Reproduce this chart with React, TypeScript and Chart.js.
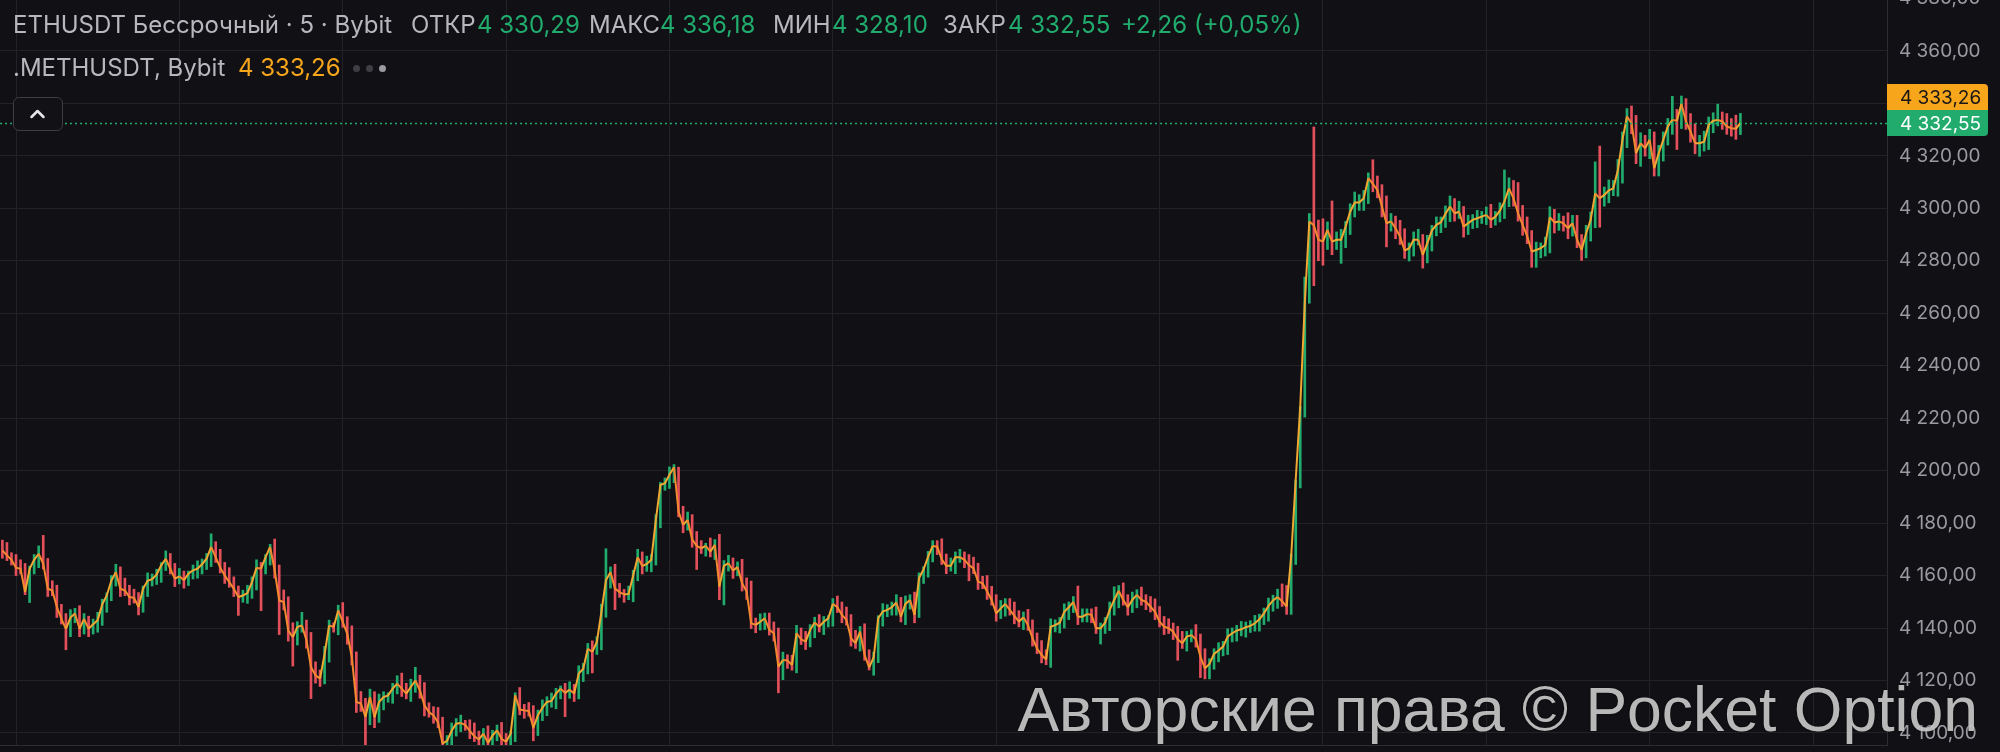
import React, { useEffect, useRef } from 'react';
import { Chart, registerables } from 'chart.js';

Chart.register(...registerables);

// ---- data (5-minute bars, ETHUSDT perpetual) ----
const firstOpen = 4171.5;
const closes: number[] = [
  4169.6, 4167.7, 4166, 4163, 4162.6, 4153.7, 4162.6, 4166, 4168.3, 4164.5,
  4155, 4154.3, 4148, 4143.5, 4139.7, 4144, 4145.5, 4139.7, 4143.5, 4139.7,
  4141.4, 4143, 4149, 4152.4, 4158, 4161.3, 4155, 4154.3, 4151.8, 4151.5,
  4148, 4155, 4158, 4158.6, 4160.4, 4163.9, 4166.4, 4162.6, 4158.8, 4159.7,
  4158.2, 4160.7, 4162, 4162.6, 4164.3, 4166.4, 4170.9, 4167, 4163, 4160,
  4157.5, 4155, 4151.8, 4152.4, 4153.3, 4157.5, 4163, 4162.6, 4167, 4170.9,
  4162, 4150.5, 4149.9, 4139, 4136.5, 4140.4, 4141, 4135.3, 4125.1, 4122,
  4120.7, 4130, 4141, 4140.4, 4146.7, 4142.3, 4137.8, 4128.9, 4111.8, 4111.2,
  4106.1, 4113.7, 4106, 4111.8, 4113.7, 4114.3, 4116.9, 4118.8, 4116.9, 4115,
  4117.5, 4120, 4116.2, 4110.5, 4108, 4106.7, 4104, 4096, 4097, 4100.8,
  4103.5, 4103.8, 4103, 4100.8, 4098.7, 4097.5, 4099.7, 4096.2, 4099, 4101,
  4097.8, 4096.6, 4099.7, 4114.3, 4108.9, 4108.6, 4108.4, 4102, 4106.7, 4109.6,
  4111.8, 4112.2, 4115, 4116.9, 4115.2, 4116.5, 4115, 4122.6, 4124.5, 4132.1,
  4130.9, 4134.7, 4146.1, 4158.2, 4161.3, 4155, 4153.7, 4152.8, 4153, 4160,
  4167, 4163.6, 4164.4, 4166, 4181.2, 4194.5, 4195.2, 4198.4, 4201.3, 4184.4,
  4179.3, 4181.2, 4173.8, 4171.3, 4170.4, 4171.3, 4169.1, 4171.7, 4155.8, 4163.7,
  4164.7, 4161.9, 4163.2, 4157.1, 4153.9, 4141.8, 4141.2, 4142.4, 4143.7, 4139.3,
  4138, 4125.3, 4127.8, 4127.6, 4125.9, 4138, 4135.7, 4134.8, 4139.3, 4142.1,
  4140.5, 4142.4, 4143.7, 4149.2, 4147.9, 4145, 4143.1, 4136.1, 4134.2, 4138.6,
  4129.7, 4125, 4128.8, 4143.7, 4146.3, 4146.9, 4147.9, 4149.7, 4144.3, 4149.2,
  4150.7, 4145, 4159, 4162.4, 4167.2, 4171.3, 4171, 4166.2, 4163.7, 4163.7,
  4167, 4167, 4166, 4164, 4162.7, 4157.7, 4157, 4153.9, 4150.7, 4145.6,
  4147.5, 4149.2, 4146.9, 4144.6, 4142.4, 4144.1, 4141.1, 4136.1, 4132.2, 4129.7,
  4128, 4140.5, 4141.1, 4142, 4146.2, 4147.9, 4150, 4144.3, 4144.3, 4145.3,
  4145, 4139.9, 4139.9, 4142, 4146.9, 4150.7, 4154.2, 4150.7, 4147.9, 4150.7,
  4152.6, 4150.7, 4150, 4148.1, 4146.2, 4142.4, 4140.5, 4139.9, 4138.6, 4135.7,
  4134.2, 4136.7, 4137.3, 4135.7, 4129.1, 4124.6, 4126.3, 4130.1, 4131.4, 4132.9,
  4136.7, 4138, 4139, 4139.5, 4140.3, 4140.8, 4141.8, 4143.3, 4145.6, 4148.4,
  4150.5, 4151.8, 4150.2, 4148.2, 4167.2, 4196.4, 4224.4, 4263.8, 4295, 4293.5,
  4288, 4287.3, 4291.8, 4287.3, 4288, 4288, 4293, 4298.7, 4302.2, 4302.2,
  4303.8, 4311.5, 4309.3, 4307, 4300.7, 4294.3, 4295, 4292.4, 4289.2, 4283.9,
  4284.8, 4288, 4288, 4282.2, 4286.7, 4291.5, 4293.7, 4294.7, 4297.9, 4300.7,
  4298.1, 4298.7, 4293, 4294.3, 4295.6, 4296.2, 4296.8, 4297.5, 4295.6, 4296.8,
  4299.1, 4302.6, 4307.6, 4303.8, 4298.1, 4293.7, 4289.5, 4283.5, 4284.1, 4284.8,
  4286, 4296.6, 4294.6, 4295, 4294.3, 4292.4, 4294.3, 4288, 4284.1, 4290.5,
  4295.6, 4305.7, 4303.8, 4305.1, 4306.8, 4307.6, 4314.6, 4326.1, 4335, 4332.4,
  4321, 4324.8, 4322.9, 4326.1, 4315.3, 4321, 4326.1, 4331.2, 4333.7, 4333.4,
  4339.8, 4333.1, 4329.2, 4324.8, 4324.8, 4325.4, 4331.8, 4333.4, 4333.7, 4333.1,
  4331.2, 4330.5, 4330.29, 4332.55,
];
// wick length above max(open, close)
const upWicks: number[] = [
  2, 3, 1, 2, 3, 2, 1, 2, 3, 7, 2, 3, 2, 1, 2, 3, 2, 3, 2, 1,
  2, 3, 2, 1, 2, 3, 2, 4, 2, 3, 2, 1, 3, 2, 2, 1, 3, 2, 2, 3,
  2, 1, 2, 3, 2, 2, 5, 2, 3, 2, 3, 2, 1, 2, 3, 2, 3, 2, 1, 1,
  3, 2, 4, 2, 3, 2, 5, 2, 3, 2, 2, 3, 2, 1, 2, 3, 2, 3, 2, 4,
  2, 3, 2, 3, 2, 1, 2, 3, 4, 2, 3, 5, 2, 3, 1, 2, 3, 2, 2, 3,
  2, 3, 1, 2, 3, 2, 2, 3, 2, 2, 3, 2, 1, 1, 3, 2, 3, 2, 2, 3,
  2, 3, 2, 1, 2, 3, 2, 3, 2, 2, 3, 2, 3, 12, 2, 3, 2, 1, 3, 2,
  3, 2, 3, 2, 2, 1, 2, 3, 1, 0, 2, 3, 2, 3, 2, 1, 3, 2, 4, 2,
  3, 2, 2, 3, 2, 4, 2, 3, 2, 2, 3, 2, 3, 2, 2, 3, 2, 3, 2, 2,
  3, 2, 1, 2, 3, 2, 3, 2, 3, 2, 3, 2, 2, 1, 3, 2, 2, 3, 2, 3,
  2, 3, 2, 1, 2, 2, 2, 3, 2, 3, 2, 3, 2, 2, 3, 2, 2, 3, 2, 2,
  3, 2, 2, 3, 2, 2, 3, 2, 2, 3, 2, 3, 2, 2, 3, 2, 2, 6, 3, 2,
  2, 3, 2, 2, 3, 5, 2, 3, 2, 3, 2, 3, 2, 2, 3, 2, 2, 3, 2, 2,
  3, 2, 2, 4, 2, 3, 2, 2, 3, 2, 3, 2, 2, 3, 2, 2, 3, 2, 2, 3,
  2, 3, 5, 6, 1, 0, 0, 10, 3, 36, 2, 8, 3, 11, 3, 4, 2, 3, 4, 3,
  3, 2, 7, 3, 2, 4, 3, 2, 3, 3, 2, 3, 4, 2, 3, 2, 3, 2, 3, 4,
  3, 4, 2, 3, 2, 3, 2, 3, 4, 2, 3, 12, 4, 3, 6, 3, 3, 2, 3, 2,
  3, 4, 3, 3, 2, 4, 3, 3, 2, 3, 3, 12, 18, 3, 4, 3, 4, 3, 3, 4,
  3, 4, 3, 4, 3, 3, 3, 3, 9, 4, 3, 2, 3, 3, 3, 4, 3, 3, 6, 3,
  3, 3, 5, 3.63,
];
// wick length below min(open, close)
const downWicks: number[] = [
  3, 2, 2, 3, 2, 1, 4, 2, 3, 2, 3, 2, 4, 2, 8, 3, 2, 3, 2, 3,
  2, 3, 2, 3, 2, 2, 3, 2, 3, 2, 3, 2, 3, 2, 2, 3, 2, 2, 3, 2,
  3, 2, 2, 3, 2, 2, 3, 2, 2, 3, 2, 3, 7, 2, 3, 2, 3, 16, 2, 3,
  3, 13, 3, 4, 11, 3, 2, 3, 12, 3, 3, 2, 3, 2, 3, 2, 4, 3, 4, 3,
  12, 3, 4, 2, 3, 2, 3, 2, 3, 2, 3, 2, 3, 4, 2, 3, 2, 3, 2, 3,
  2, 3, 2, 3, 2, 3, 2, 3, 2, 2, 3, 2, 2, 3, 2, 3, 2, 5, 3, 2,
  3, 2, 3, 2, 9, 2, 3, 2, 3, 2, 8, 1, 3, 2, 3, 8, 2, 3, 2, 3,
  2, 3, 2, 3, 2, 3, 2, 2, 3, 2, 3, 2, 3, 9, 2, 3, 2, 3, 5, 7,
  2, 3, 2, 3, 3, 2, 3, 2, 3, 2, 3, 10, 5, 3, 2, 3, 2, 3, 2, 3,
  2, 3, 2, 3, 2, 3, 2, 3, 2, 3, 2, 1, 3, 2, 3, 2, 2, 3, 2, 3,
  2, 3, 1, 2, 3, 2, 3, 2, 3, 2, 3, 2, 3, 6, 2, 3, 2, 3, 2, 3,
  2, 3, 2, 3, 2, 3, 2, 3, 2, 3, 2, 3, 2, 3, 2, 3, 2, 3, 2, 2,
  3, 2, 6, 2, 3, 2, 3, 2, 3, 2, 3, 2, 3, 2, 3, 2, 3, 2, 3, 8,
  2, 3, 2, 3, 8, 4, 4, 2, 3, 2, 3, 2, 3, 2, 3, 2, 2, 3, 2, 3,
  2, 3, 2, 3, 3, 3, 3, 4, 0, 23, 8, 9, 3, 5, 3, 9, 3, 3, 2, 3,
  3, 2, 3, 3, 4, 9, 3, 4, 3, 3, 4, 3, 2, 5, 3, 3, 2, 3, 2, 3,
  3, 2, 4, 3, 2, 3, 2, 3, 3, 2, 2, 3, 2, 3, 3, 4, 3, 6, 6, 3,
  3, 3, 4, 3, 3, 4, 3, 3, 4, 3, 3, 3, 11, 3, 3, 2, 3, 5, 3, 4,
  4, 5, 3, 4, 3, 3, 3, 2, 3, 11, 3, 3, 4, 4, 5, 3, 3, 3, 2, 3,
  3, 3, 4, 2.19,
];
const markPriceLast = 4333.26;
const priceTicks = [4100, 4120, 4140, 4160, 4180, 4200, 4220, 4240, 4260, 4280, 4300, 4320, 4340, 4360, 4380];
const timeGridBars = [3, 39, 75, 111, 147, 183, 219, 255, 291, 327, 363, 399];
const legendTitle = 'ETHUSDT Бессрочный · 5 · Bybit';
const legendOpen = '4 330,29';
const legendHigh = '4 336,18';
const legendLow = '4 328,10';
const legendClose = '4 332,55';
const legendChange = '+2,26 (+0,05%)';
const markTitle = '.METHUSDT, Bybit';
const markValue = '4 333,26';
const watermark = 'Авторские права © Pocket Option';

// ---- styles ----
const BG = '#111115';
const GRID = '#222227';
const BORDER = '#2c2c31';
const UP = '#21ac6e';
const DOWN = '#e3505b';
const ORANGE = '#f7a61c';
const TEXT = '#b7b7bd';
const AXIS_TEXT = '#9a9aa1';
const FONT = 'Inter, "Noto Sans", sans-serif';

const fmtPrice = (v: number) => {
  const s = v.toFixed(2).replace('.', ',');
  const [ip, fp] = s.split(',');
  return ip.slice(0, ip.length - 3) + ' ' + ip.slice(-3) + ',' + fp;
};

export default function App() {
  const ref = useRef<HTMLCanvasElement>(null);

  useEffect(() => {
    document.body.style.margin = '0';
    document.body.style.background = BG;
    const opens = closes.map((c, i) => (i === 0 ? firstOpen : closes[i - 1]));
    const barData = closes.map((c, i) => {
      const o = opens[i];
      return { x: i, y: [Math.min(o, c) - downWicks[i], Math.max(o, c) + upWicks[i]] };
    });
    const barColors = closes.map((c, i) => (c >= opens[i] ? UP : DOWN));
    const lineData = closes.map((c, i) => ({ x: i, y: c }));
    const lastClose = closes[closes.length - 1];

    const overlay = {
      id: 'overlay',
      afterDraw(chart: any) {
        const { ctx, chartArea, scales } = chart;
        const y = scales.y;
        const yc = Math.round(y.getPixelForValue(lastClose));
        ctx.save();
        ctx.strokeStyle = UP;
        ctx.lineWidth = 1.5;
        ctx.setLineDash([2, 3]);
        ctx.beginPath();
        ctx.moveTo(chartArea.left, yc + 0.5);
        ctx.lineTo(chartArea.right, yc + 0.5);
        ctx.stroke();
        ctx.setLineDash([]);
        const x0 = chartArea.right;
        const w = 101;
        const h = 26;
        ctx.fillStyle = ORANGE;
        ctx.beginPath();
        ctx.roundRect(x0, yc - h / 2 - h, w, h, [0, 4, 0, 0]);
        ctx.fill();
        ctx.fillStyle = UP;
        ctx.beginPath();
        ctx.roundRect(x0, yc - h / 2, w, h, [0, 0, 4, 0]);
        ctx.fill();
        ctx.font = '19px ' + FONT;
        ctx.textBaseline = 'middle';
        ctx.textAlign = 'left';
        ctx.fillStyle = '#161616';
        ctx.fillText(fmtPrice(markPriceLast), x0 + 13, yc - h + 1);
        ctx.fillStyle = '#ffffff';
        ctx.fillText(fmtPrice(lastClose), x0 + 13, yc + 1);
        ctx.restore();
      },
    };

    const chart = new Chart(ref.current as HTMLCanvasElement, {
      type: 'bar',
      data: {
        datasets: [
          {
            type: 'line',
            data: lineData,
            borderColor: ORANGE,
            borderWidth: 2,
            pointRadius: 0,
            tension: 0,
            order: 1,
            segment: {
              borderColor: (ctx: any) => (ctx.p1.parsed.y >= ctx.p0.parsed.y ? '#f0a833' : '#f4882f'),
            },
          } as any,
          {
            type: 'bar',
            data: barData as any,
            backgroundColor: barColors,
            borderWidth: 0,
            barThickness: 2,
            order: 2,
          } as any,
        ],
      },
      options: {
        animation: false,
        responsive: false,
        events: [],
        layout: { padding: 0 },
        plugins: { legend: { display: false }, tooltip: { enabled: false } },
        scales: {
          x: {
            type: 'linear',
            offset: false,
            min: -0.527,
            max: 415.3,
            ticks: { display: false },
            grid: { color: GRID, drawTicks: false, lineWidth: 1, offset: false },
            border: { display: true, color: BORDER },
            afterBuildTicks: (scale: any) => {
              scale.ticks = timeGridBars.map((v) => ({ value: v }));
            },
            afterFit: (scale: any) => {
              scale.height = 7;
              scale.paddingLeft = 0;
              scale.paddingRight = 0;
            },
          },
          y: {
            type: 'linear',
            position: 'right',
            min: 4095.4,
            max: 4379.4,
            ticks: {
              color: AXIS_TEXT,
              font: { family: FONT, size: 19 },
              padding: 12,
              autoSkip: false,
              callback: (v: any) => fmtPrice(Number(v)),
            },
            grid: { color: GRID, drawTicks: false, lineWidth: 1 },
            border: { display: true, color: BORDER },
            afterBuildTicks: (scale: any) => {
              scale.ticks = priceTicks.map((v) => ({ value: v }));
            },
            afterFit: (scale: any) => {
              scale.width = 113;
              scale.paddingTop = 0;
              scale.paddingBottom = 0;
            },
          },
        },
      },
      plugins: [overlay],
    } as any);
    return () => chart.destroy();
  }, []);

  const lbl = (left: number, top: number, text: string, color: string) => (
    <span
      style={{
        position: 'absolute',
        left,
        top,
        height: 30,
        lineHeight: '30px',
        fontSize: 24,
        fontFamily: FONT,
        color,
        whiteSpace: 'nowrap',
      }}
    >
      {text}
    </span>
  );

  const dot = (left: number, color: string) => (
    <span
      style={{
        position: 'absolute',
        left,
        top: 65,
        width: 7,
        height: 7,
        borderRadius: 4,
        background: color,
      }}
    />
  );

  return (
    <div
      style={{
        position: 'absolute',
        left: 0,
        top: 0,
        width: 2000,
        height: 752,
        background: BG,
        overflow: 'hidden',
      }}
    >
      <canvas ref={ref} width={2000} height={752} style={{ display: 'block' }} />
      {lbl(13, 10, legendTitle, TEXT)}
      {lbl(411, 10, 'ОТКР', TEXT)}
      {lbl(477, 10, legendOpen, UP)}
      {lbl(589, 10, 'МАКС', TEXT)}
      {lbl(660, 10, legendHigh, UP)}
      {lbl(773, 10, 'МИН', TEXT)}
      {lbl(832, 10, legendLow, UP)}
      {lbl(943, 10, 'ЗАКР', TEXT)}
      {lbl(1008, 10, legendClose, UP)}
      {lbl(1121, 10, legendChange, UP)}
      {lbl(13, 53, markTitle, TEXT)}
      {lbl(238, 53, markValue, ORANGE)}
      {dot(353, '#3e3e44')}
      {dot(366, '#3e3e44')}
      {dot(379, '#9a9aa0')}
      <div
        style={{
          position: 'absolute',
          left: 13,
          top: 97,
          width: 50,
          height: 34,
          border: '1.5px solid #3d3d42',
          borderRadius: 6,
          background: '#121216',
          boxSizing: 'border-box',
        }}
      >
        <svg width="47" height="31" style={{ position: 'absolute', left: 0, top: 0 }}>
          <polyline points="17.5,19 23.5,13 29.5,19" fill="none" stroke="#e6e6ea" strokeWidth="2.5" strokeLinecap="round" strokeLinejoin="round" />
        </svg>
      </div>
      <div
        style={{
          position: 'absolute',
          right: 22,
          top: 678,
          fontFamily: '"Liberation Sans", Arial, sans-serif',
          fontSize: 62.5,
          lineHeight: '62.5px',
          color: 'rgba(210,210,210,0.88)',
          textShadow: '0 0 2px rgba(0,0,0,0.6)',
          whiteSpace: 'nowrap',
        }}
      >
        {watermark}
      </div>
    </div>
  );
}
